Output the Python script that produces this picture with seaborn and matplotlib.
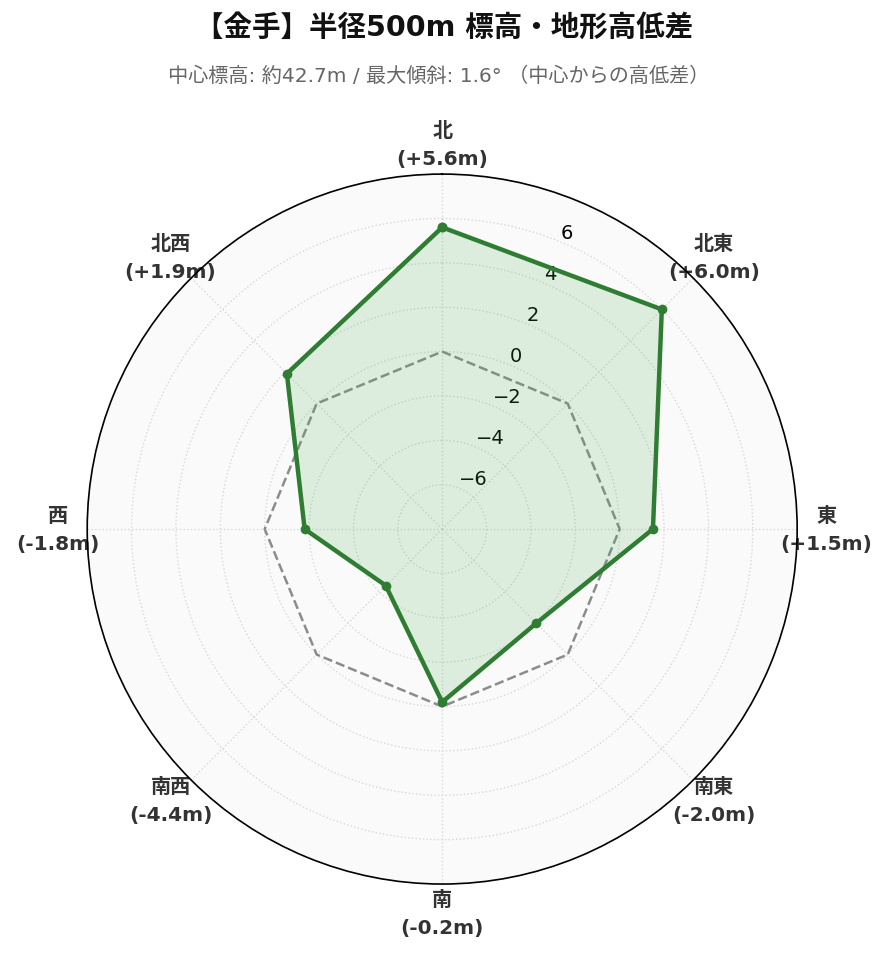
import numpy as np
import pandas as pd
import matplotlib
matplotlib.use("Agg")
import matplotlib.pyplot as plt
import seaborn as sns

# data
directions = ["北", "北東", "東", "南東", "南", "南西", "西", "北西"]
diffs = [5.6, 6.0, 1.5, -2.0, -0.2, -4.4, -1.8, 1.9]
r_ticks = [-6, -4, -2, 0, 2, 4, 6]

sns.set_theme(style="white")
plt.rcParams['font.family'] = ['DejaVu Sans', 'Noto Sans CJK JP']
plt.rcParams['axes.unicode_minus'] = True

angles = np.linspace(0, 2 * np.pi, len(directions), endpoint=False)
# close the polygon with the first point at 2*pi
df = pd.DataFrame({
    "theta": np.append(angles, 2 * np.pi),
    "diff": diffs + [diffs[0]],
    "zero": 0.0,
})

fig = plt.figure(figsize=(8.89, 9.62), dpi=100)
ax = fig.add_axes([0.0979, 0.080, 0.799, 0.738], projection="polar")
ax.set_theta_zero_location("N")
ax.set_theta_direction(-1)
ax.set_facecolor("#fafafa")

# zero reference
sns.lineplot(data=df, x="theta", y="zero", sort=False, estimator=None, ax=ax,
             color="gray", linestyle="--", linewidth=1.8, alpha=0.9)
# terrain difference
ax.fill(df["theta"], df["diff"], color="#4caf50", alpha=0.17, zorder=2,
        linewidth=0)
sns.lineplot(data=df, x="theta", y="diff", sort=False, estimator=None, ax=ax,
             color="#2e7d32", linewidth=3.2, marker="o", markersize=7,
             markeredgewidth=0, zorder=3)

ax.set_ylim(-8, 8)
ax.set_yticks(r_ticks)
ax.set_yticklabels([f"{t}".replace("-", "\u2212") for t in r_ticks],
                   fontsize=14, color="black")
ax.set_rlabel_position(22.5)

labels = [f"{d}\n({v:+.1f}m)" for d, v in zip(directions, diffs)]
ax.set_xticks(angles)
ax.set_xticklabels(labels, fontsize=14.5, fontweight="bold", color="#333333",
                   linespacing=1.6)
ax.tick_params(axis="x", pad=8)
ax.set_xlabel("")
ax.set_ylabel("")

ax.grid(True, color="#d8d8d8", linestyle=":", linewidth=1)
ax.spines["polar"].set_color("black")
ax.spines["polar"].set_linewidth(1.2)

fig.text(0.5, 0.971, "【金手】半径500m 標高・地形高低差", ha="center", va="center",
         fontsize=20.5, fontweight="bold", color="#111111")
fig.text(0.493, 0.921, "中心標高: 約42.7m / 最大傾斜: 1.6° （中心からの高低差）",
         ha="center", va="center", fontsize=14.5, color="#666666")

fig.savefig("out.png", dpi=100)
